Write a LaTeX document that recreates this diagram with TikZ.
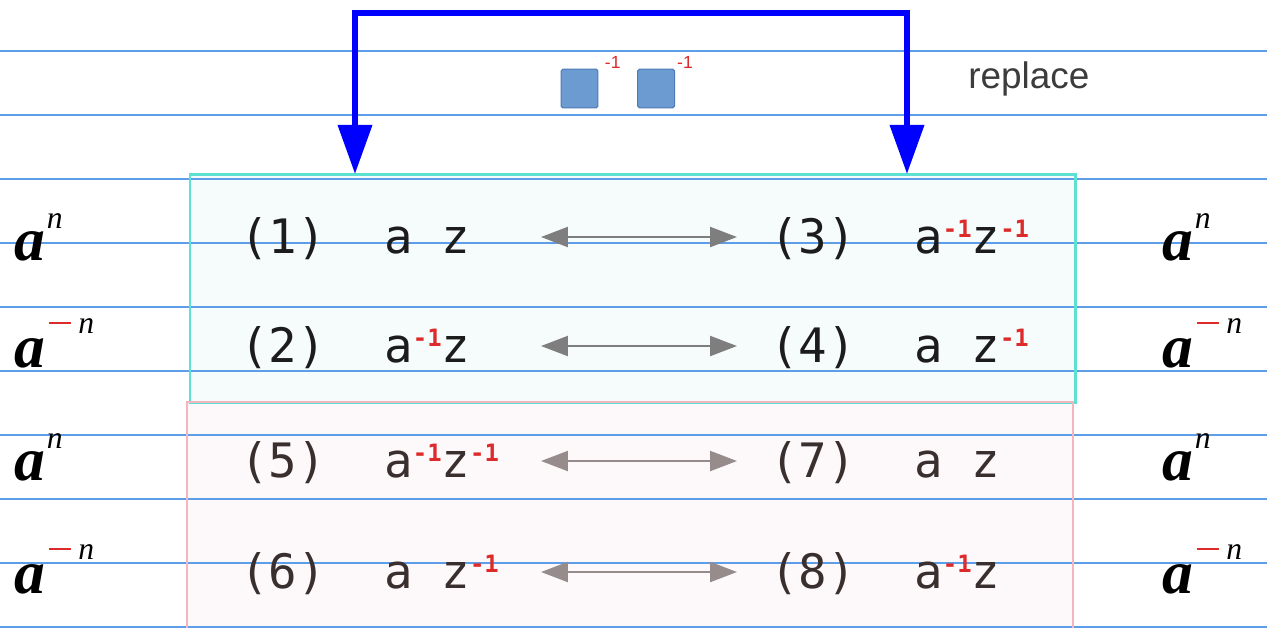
\documentclass[tikz,border=0pt]{standalone}
\usepackage{fontspec}
\setmainfont{Liberation Serif}
\setsansfont{Liberation Sans}
\setmonofont{DejaVu Sans Mono}
\usepackage{xcolor}
\usepackage{tikz}
\usetikzlibrary{arrows.meta,positioning}
\definecolor{gridblue}{HTML}{5E9DE8}
\definecolor{tealline}{HTML}{5EE0D2}
\definecolor{tealfill}{HTML}{F6FCFB}
\definecolor{pinkline}{HTML}{F3B5BE}
\definecolor{pinkfill}{HTML}{FDF9FA}
\definecolor{supred}{HTML}{DD2A2A}
\definecolor{arrgray}{HTML}{7E7E7E}
\definecolor{arrmauve}{HTML}{978C8C}
\definecolor{sqfill}{HTML}{6C9BD2}
\definecolor{sqline}{HTML}{4C7BB6}
\definecolor{inkdark}{HTML}{1C1C1C}
\definecolor{inkbrown}{HTML}{3A2F2F}
\definecolor{replgray}{HTML}{3C3C3C}
\newcommand\inv{\raisebox{9pt}{\fontsize{13.6}{14}\selectfont\bfseries\color{supred}-1}}
\newcommand\apow{{\fontsize{35}{35}\selectfont\bfseries\itshape a}\hspace{1pt}\raisebox{18pt}{\fontsize{18}{18}\selectfont\itshape n}}
\newcommand\aneg{{\fontsize{35}{35}\selectfont\bfseries\itshape a}\hspace{2pt}\raisebox{19pt}{\fontsize{18}{18}\selectfont\textcolor{supred}{\rule[5.2pt]{12.5pt}{1.6pt}}\hspace{4.5pt}\itshape n}}

\begin{document}
\begin{tikzpicture}[x=0.02cm, y=-0.02cm, every node/.style={inner sep=0pt},
  txt/.style={anchor=base west, font=\ttfamily\fontsize{27}{27}\selectfont},
  pow/.style={anchor=base west, text=black},
  swaparr/.style={line width=1.4pt, {Triangle[width=11.3pt,length=15.3pt]}-{Triangle[width=11.3pt,length=15.3pt]}},
  sq/.style={draw=sqline, fill=sqfill, line width=0.6pt, rounded corners=1pt, minimum width=21pt, minimum height=22pt},
  sqsup/.style={text=supred, font=\sffamily\fontsize{10}{10}\selectfont}]
\useasboundingbox (0,0) rectangle (1267,627);
\clip (0,0) rectangle (1267,627);
\fill[white] (0,0) rectangle (1267,627);
\fill[tealfill] (190,174) rectangle (1075,402);
\fill[pinkfill] (187,402) rectangle (1073,640);
\foreach \k in {0,...,9} \draw[gridblue, line width=0.7pt] (0,{51+64*\k}) -- (1267,{51+64*\k});
\draw[tealline, line width=1.7pt] (190,174) rectangle (1075,402);
\draw[pinkline, line width=1.2pt] (187,402) rectangle (1073,640);

\coordinate (dropL) at (355,174); \coordinate (dropR) at (907,174);
\draw[blue, line width=3.4pt, {Triangle[width=19pt,length=28pt]}-{Triangle[width=19pt,length=28pt]}]
  (dropL) -- ++(0,-161) -| (dropR);
\node[sq] (sqa) at (579.5,88.5) {};
\node[sq, right=22pt of sqa] (sqb) {};
\node[sqsup, above right=0pt and 3.5pt of sqa.north east] (supa) {-1};
\node[sqsup, above right=0pt and 1pt of sqb.north east] (supb) {-1};
\node[anchor=base west, text=replgray, font=\sffamily\fontsize{21}{21}\selectfont] (repl) at (968,88) {replace};

\foreach \a/\b/\y/\ea/\eb/\tc/\ac in {1/3/253/{a\ z}/{a\inv z\inv}/inkdark/arrgray, 2/4/362/{a\inv z}/{a\ z\inv}/inkdark/arrgray,
  5/7/477/{a\inv z\inv}/{a\ z}/inkbrown/arrmauve, 6/8/588/{a\ z\inv}/{a\inv z}/inkbrown/arrmauve}{
  \node[txt, text=\tc] (num\a) at (240,\y) {(\a)};
  \node[txt, text=\tc] (expr\a) at (384,\y) {\ea};
  \node[txt, text=\tc] (num\b) at (770,\y) {(\b)};
  \node[txt, text=\tc] (expr\b) at (914,\y) {\eb};
  \coordinate (from\a) at (541,{\y-16}); \coordinate (to\a) at (737,{\y-16});
  \draw[swaparr, \ac] (from\a) -- (to\a);}
\foreach \y/\lab in {260/\apow, 367/\aneg, 480/\apow, 593/\aneg}{
  \node[pow] (left\y) at (14,\y) {\lab};
  \node[pow] (right\y) at (1162,\y) {\lab};}
\end{tikzpicture}
\end{document}
